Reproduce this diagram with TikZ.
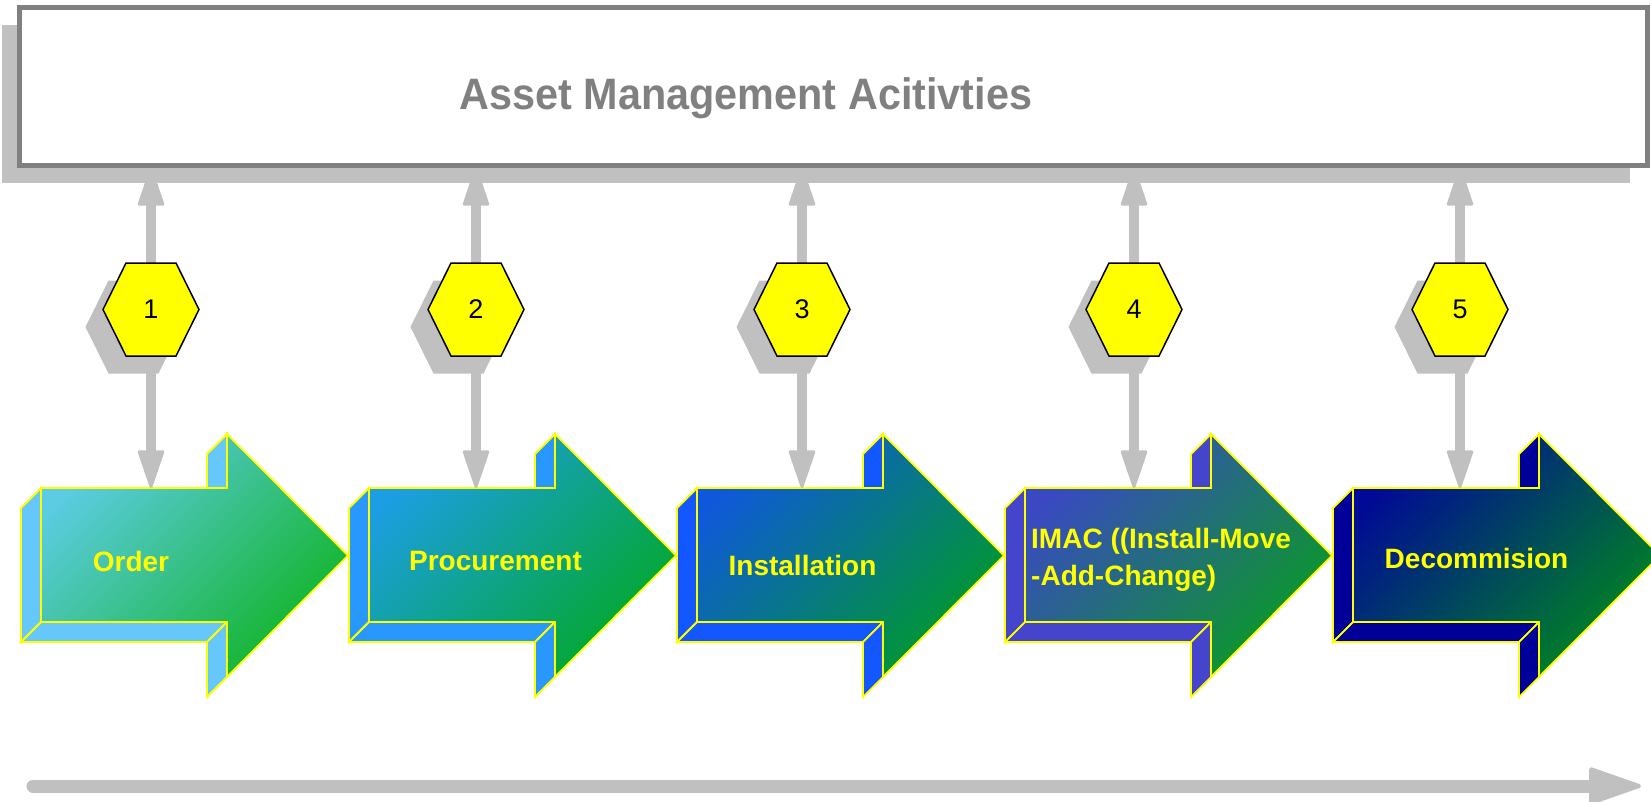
\documentclass[tikz,border=0pt]{standalone}
\usepackage{fontspec}
\setmainfont{Liberation Sans}
\usetikzlibrary{arrows.meta,calc,shadows}
\definecolor{frame}{HTML}{808080}
\definecolor{shade}{HTML}{C0C0C0}
\definecolor{honey}{HTML}{FFFF00}
% side, light and dark colours of the five stages
\definecolor{orderside}{HTML}{66C8FA}
\definecolor{ordertop}{HTML}{5CCCE4}
\definecolor{orderend}{HTML}{12B428}
\definecolor{procside}{HTML}{2898FF}
\definecolor{proctop}{HTML}{1C9EE4}
\definecolor{procend}{HTML}{02A82A}
\definecolor{instside}{HTML}{1257FF}
\definecolor{insttop}{HTML}{0F58DC}
\definecolor{instend}{HTML}{009A2A}
\definecolor{imacside}{HTML}{4444CC}
\definecolor{imactop}{HTML}{3A48C4}
\definecolor{imacend}{HTML}{0A9A26}
\definecolor{decoside}{HTML}{000099}
\definecolor{decotop}{HTML}{000A96}
\definecolor{decoend}{HTML}{008622}
\newcommand{\lblfont}{\fontsize{28}{37}\selectfont\bfseries}
\newcommand{\numfont}{\fontsize{27}{27}\selectfont}
\newcommand{\ttlfont}{\fontsize{44}{50}\selectfont\bfseries}
% 3-d block arrow, origin at the top-left corner of its front face
% #1 origin, #2 side colour, #3 light end, #4 dark end
\newcommand{\stagearrow}[4]{%
  \begin{scope}[shift={(#1)}]
    \filldraw[face, fill=#2] (0,0) -- (-20,20) -- (-20,154) -- (0,134) -- cycle;
    \filldraw[face, fill=#2] (0,134) -- (-20,154) -- (166,154) -- (186,134) -- cycle;
    \filldraw[face, fill=#2] (186,134) -- (166,154) -- (166,209) -- (186,189) -- cycle;
    \filldraw[face, fill=#2] (186,-54) -- (166,-34) -- (166,0) -- (186,0) -- cycle;
    \shadedraw[face, top color=#3, bottom color=#4, shading angle=45]
      (0,0) -- (186,0) -- (186,-54) -- (307,67.5) -- (186,189) -- (186,134) -- (0,134) -- cycle;
  \end{scope}}
\newcommand{\hexagon}[1]{%
  \draw[hexface, shift={(#1)}] (-48,0) -- (-25,-46.5) -- (25,-46.5) -- (48,0) -- (25,46.5) -- (-25,46.5) -- cycle;}

\begin{document}
\begin{tikzpicture}[
  x=1pt, y=-1pt,
  shadowed/.style={drop shadow={shadow xshift=-17.5pt, shadow yshift=-17.5pt, fill=shade, opacity=1}},
  board/.style={draw=frame, line width=5pt, fill=white, minimum width=1628pt, minimum height=158pt,
                inner sep=0pt, shadowed},
  face/.style={draw=honey, line width=1.8pt, line join=miter},
  hexface/.style={draw=black, line width=1.5pt, fill=honey, shadowed},
  num/.style={font=\numfont, text=black, inner sep=0pt},
  lbl/.style={font=\lblfont, text=honey, inner sep=0pt},
  link/.style={draw=shade, line width=10pt,
               {Triangle[width=27pt,length=41pt,line width=3pt,round]}-{Triangle[width=27pt,length=41pt,line width=3pt,round]}},
  timeline/.style={draw=shade, line width=13pt, line cap=round,
                   -{Triangle[width=38pt,length=56pt,line width=4pt,round]}},
]
\useasboundingbox (0,0) rectangle (1651,801);
% ---------------- activities board ----------------
\node[board] (board) at (833.5,86.5) {};
\node[font=\ttlfont, text=frame, inner sep=0pt, anchor=base] (title) at (746,109)
  {\scalebox{0.94}[1]{Asset Management Acitivties}};

% ---------------- stages ----------------
\coordinate (a1) at (41,488);
\coordinate (a2) at (369,488);
\coordinate (a3) at (697,488);
\coordinate (a4) at (1025,488);
\coordinate (a5) at (1353,488);
\stagearrow{a1}{orderside}{ordertop}{orderend}
\stagearrow{a2}{procside}{proctop}{procend}
\stagearrow{a3}{instside}{insttop}{instend}
\stagearrow{a4}{imacside}{imactop}{imacend}
\stagearrow{a5}{decoside}{decotop}{decoend}
\node[lbl, anchor=base] (order) at (131,571) {Order};
\node[lbl, anchor=base] (procurement) at (495.5,570) {Procurement};
\node[lbl, anchor=base] (installation) at (802.5,575) {Installation};
% base of a two-line node sits on its last line
\node[lbl, anchor=base west, align=left] (imac) at (1031,585) {IMAC ((Install-Move\\-Add-Change)};
\node[lbl, anchor=base] (decommission) at (1476.5,568) {Decommision};

% ---------------- numbered links between board and stages ----------------
\coordinate (h1) at (151,309.5);
\coordinate (h2) at (476,309.5);
\coordinate (h3) at (802,309.5);
\coordinate (h4) at (1134,309.5);
\coordinate (h5) at (1460,309.5);
\draw[link] (board.south -| h1) -- (h1 |- a1);
\draw[link] (board.south -| h2) -- (h2 |- a2);
\draw[link] (board.south -| h3) -- (h3 |- a3);
\draw[link] (board.south -| h4) -- (h4 |- a4);
\draw[link] (board.south -| h5) -- (h5 |- a5);
\hexagon{h1} \hexagon{h2} \hexagon{h3} \hexagon{h4} \hexagon{h5}
\node[num] (n1) at (h1) {1};
\node[num] (n2) at (h2) {2};
\node[num] (n3) at (h3) {3};
\node[num] (n4) at (h4) {4};
\node[num] (n5) at (h5) {5};

% ---------------- time axis ----------------
\coordinate (t0) at (33,786);
\coordinate (t1) at (1641,786);
\draw[timeline] (t0) -- (t1);
\end{tikzpicture}
\end{document}
